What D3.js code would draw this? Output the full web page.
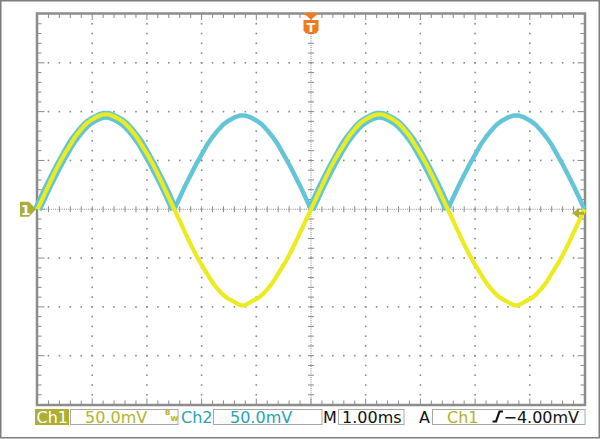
<!DOCTYPE html>
<html>
<head>
<meta charset="utf-8">
<script src="https://cdn.jsdelivr.net/npm/d3@7"></script>
<style>
  html, body { margin: 0; padding: 0; background: #fff; }
  svg { display: block; }
  text { font-family: "DejaVu Sans", sans-serif; }
</style>
</head>
<body>
<svg id="chart" width="600" height="439"></svg>
<script>
// ---- Data ----
const timeMs = [
  0,0.1,0.2,0.3,0.4,0.5,0.6,0.7,0.8,0.9,
  1,1.1,1.2,1.3,1.4,1.5,1.6,1.7,1.8,1.9,
  2,2.1,2.2,2.3,2.4,2.5,2.6,2.7,2.8,2.9,
  3,3.1,3.2,3.3,3.4,3.5,3.6,3.7,3.8,3.9,
  4,4.1,4.2,4.3,4.4,4.5,4.6,4.7,4.8,4.9,
  5,5.1,5.2,5.3,5.4,5.5,5.6,5.7,5.8,5.9,
  6,6.1,6.2,6.3,6.4,6.5,6.6,6.7,6.8,6.9,
  7,7.1,7.2,7.3,7.4,7.5,7.6,7.7,7.8,7.9,
  8,8.1,8.2,8.3,8.4,8.5,8.6,8.7,8.8,8.9,
  9,9.1,9.2,9.3,9.4,9.5,9.6,9.7,9.8,9.9,
  10
];
// Ch1 (yellow) in mV
const ch1mV = [
  0,12,24,36,47,57,66,75,82,88,92,95,97,97,95,92,88,82,75,66,57,47,36,24,12,
  0,-12,-24,-36,-47,-57,-66,-75,-82,-88,-92,-95,-98,-98,-95,-92,-88,-82,-75,-66,-57,-47,-36,-24,-12,
  0,12,24,36,47,57,66,75,82,88,92,95,97,97,95,92,88,82,75,66,57,47,36,24,12,
  0,-12,-24,-36,-47,-57,-66,-75,-82,-88,-92,-95,-98,-98,-95,-92,-88,-82,-75,-66,-57,-47,-36,-24,-12,
  0
];
// Ch2 (cyan, rectified) in mV
const ch2mV = [
  0,12,24,35,46,56,66,74,81,87,91,94,96,96,94,91,87,81,74,66,56,46,35,24,12,
  0,12,24,35,46,56,66,74,81,87,91,94,96,96,94,91,87,81,74,66,56,46,35,24,12,
  0,12,24,35,46,56,66,74,81,87,91,94,96,96,94,91,87,81,74,66,56,46,35,24,12,
  0,12,24,35,46,56,66,74,81,87,91,94,96,96,94,91,87,81,74,66,56,46,35,24,12,
  0
];
const timeDomainMs = [0, 10];
const voltDomainmV = [-200, 200];
const ch1GroundmV = 0;
const triggerTimeMs = 5;
const triggerLevelmV = -4;

// status-bar texts
const ch1Name = "Ch1", ch1Scale = "50.0mV", bwLimitB = "B", bwLimitW = "W";
const ch2Name = "Ch2", ch2Scale = "50.0mV";
const horizLabel = "M", horizScale = "1.00ms";
const trigLabel = "A", trigSource = "Ch1", trigLevelText = "\u22124.00mV";
const ch1MarkerText = "1", trigMarkerText = "T";

// ---- Drawing ----
const svg = d3.select("#chart");
const OLIVE = "#aead34", OLIVE_TXT = "#b3b22c", YELLOW = "#ebeb1f", CYAN = "#63c5d7", CYAN_TXT = "#27a3b3";
const ORANGE = "#f27a1e", GRID = "#8a8a8a";

const x = d3.scaleLinear().domain(timeDomainMs).range([37.5, 584.5]);
const y = d3.scaleLinear().domain(voltDomainmV).range([404.5, 14]);

// outer border
svg.append("rect").attr("x", 0.75).attr("y", 0.75).attr("width", 598.5).attr("height", 437)
  .attr("fill", "#fff").attr("stroke", "#7d7d7d").attr("stroke-width", 1.5);

const g = svg.append("g");
const majorX = x.ticks(10), minorX = x.ticks(50);
const majorY = y.ticks(8), minorY = y.ticks(40);
const x0 = x.range()[0], x1 = x.range()[1], yTop = y.range()[1], yBot = y.range()[0];
const xc = x(triggerTimeMs), yc = y(0);

// dotted grid lines
const dots = [];
majorX.forEach(mx => {
  if (mx === majorX[0] || mx === majorX[majorX.length - 1] || mx === 5) return;
  minorY.forEach(my => { if (my > voltDomainmV[0] && my < voltDomainmV[1]) dots.push([x(mx), y(my)]); });
});
majorY.forEach(my => {
  if (my === voltDomainmV[0] || my === voltDomainmV[1] || my === 0) return;
  minorX.forEach(mx => { if (mx > timeDomainMs[0] && mx < timeDomainMs[1]) dots.push([x(mx), y(my)]); });
});
g.selectAll("rect.dot").data(dots).join("rect").attr("class", "dot")
  .attr("x", d => d[0] - 0.8).attr("y", d => d[1] - 0.8).attr("width", 1.6).attr("height", 1.6)
  .attr("fill", GRID);

// center cross (dotted lines with minor ticks)
g.append("line").attr("x1", x0).attr("x2", x1).attr("y1", yc).attr("y2", yc)
  .attr("stroke", GRID).attr("stroke-width", 1).attr("stroke-dasharray", "1,1.2");
g.append("line").attr("x1", xc).attr("x2", xc).attr("y1", yTop).attr("y2", yBot)
  .attr("stroke", GRID).attr("stroke-width", 1).attr("stroke-dasharray", "1,1.2");
g.selectAll("line.cxt").data(minorX.filter(v => v > 0 && v < 10)).join("line").attr("class", "cxt")
  .attr("x1", d => x(d)).attr("x2", d => x(d)).attr("y1", yc - 3).attr("y2", yc + 3)
  .attr("stroke", GRID).attr("stroke-width", 1);
g.selectAll("line.cyt").data(minorY.filter(v => v > -200 && v < 200)).join("line").attr("class", "cyt")
  .attr("y1", d => y(d)).attr("y2", d => y(d)).attr("x1", xc - 3).attr("x2", xc + 3)
  .attr("stroke", GRID).attr("stroke-width", 1);

// frame ticks
const isMajorX = v => Math.abs(v - Math.round(v)) < 1e-6;
const isMajorY = v => Math.abs(v / 50 - Math.round(v / 50)) < 1e-6;
g.selectAll("line.ftx").data(minorX.filter(v => v > 0 && v < 10)).join("line").attr("class", "ftx")
  .attr("x1", d => x(d)).attr("x2", d => x(d)).attr("y1", yTop).attr("y2", d => yTop + (isMajorX(d) ? 6 : 4))
  .attr("stroke", GRID).attr("stroke-width", 1);
g.selectAll("line.fbx").data(minorX.filter(v => v > 0 && v < 10)).join("line").attr("class", "fbx")
  .attr("x1", d => x(d)).attr("x2", d => x(d)).attr("y1", yBot).attr("y2", d => yBot - (isMajorX(d) ? 6 : 4))
  .attr("stroke", GRID).attr("stroke-width", 1);
g.selectAll("line.fly").data(minorY.filter(v => v > -200 && v < 200)).join("line").attr("class", "fly")
  .attr("y1", d => y(d)).attr("y2", d => y(d)).attr("x1", x0).attr("x2", d => x0 + (isMajorY(d) ? 7 : 4))
  .attr("stroke", GRID).attr("stroke-width", 1);
g.selectAll("line.fry").data(minorY.filter(v => v > -200 && v < 200)).join("line").attr("class", "fry")
  .attr("y1", d => y(d)).attr("y2", d => y(d)).attr("x1", x1).attr("x2", d => x1 - (isMajorY(d) ? 7 : 4))
  .attr("stroke", GRID).attr("stroke-width", 1);

// frame
g.append("rect").attr("x", x0 - 0.5).attr("y", yTop - 0.5).attr("width", x1 - x0 + 1).attr("height", yBot - yTop + 1)
  .attr("fill", "none").attr("stroke", "#8c8c8c").attr("stroke-width", 2.5);

// traces
const pts1 = timeMs.map((t, i) => ({ t, v: ch1mV[i] }));
const pts2 = timeMs.map((t, i) => ({ t, v: ch2mV[i], pos: ch1mV[i] >= 0 }));
const line1 = d3.line().x(d => x(d.t)).y(d => y(d.v)).curve(d3.curveNatural);
const line2 = d3.line().x(d => x(d.t)).y(d => y(d.v));
const halo = d3.line().defined(d => d.pos).x(d => x(d.t)).y(d => y(d.v)).curve(d3.curveNatural);

svg.append("path").datum(pts2).attr("d", halo).attr("fill", "none").attr("stroke", CYAN)
  .attr("stroke-width", 9).attr("stroke-linejoin", "round").attr("stroke-linecap", "butt");
svg.append("path").datum(pts2).attr("d", line2).attr("fill", "none").attr("stroke", CYAN)
  .attr("stroke-width", 4.5).attr("stroke-linejoin", "round");
svg.append("path").datum(pts1).attr("d", line1).attr("fill", "none").attr("stroke", YELLOW)
  .attr("stroke-width", 4.2).attr("stroke-linejoin", "round");

// Ch1 ground marker
const gy = y(ch1GroundmV);
svg.append("path").attr("d", `M20,${gy - 7.5} H29 L36,${gy} L29,${gy + 7.5} H20 Z`).attr("fill", OLIVE);
svg.append("text").attr("x", 25.5).attr("y", gy + 5.5).attr("text-anchor", "middle")
  .attr("font-size", 14).attr("font-weight", "bold").attr("fill", "#fff").text(ch1MarkerText);

// Trigger position marker (top)
svg.append("path").attr("d", `M${xc - 8},13 H${xc + 8} L${xc},19.5 Z`).attr("fill", ORANGE);
svg.append("path").attr("d", `M${xc - 7.5},20 H${xc + 7.5} V30.5 L${xc + 5},33.5 H${xc - 5} L${xc - 7.5},30.5 Z`).attr("fill", ORANGE);
svg.append("text").attr("x", xc).attr("y", 31.5).attr("text-anchor", "middle")
  .attr("font-size", 13).attr("font-weight", "bold").attr("fill", "#fff").text(trigMarkerText);

// Trigger level marker (right)
const ty = y(triggerLevelmV);
svg.append("path").attr("d", `M572,${ty} L579,${ty - 5} V${ty - 1.5} H584 V${ty + 1.5} H579 V${ty + 5} Z`).attr("fill", OLIVE);

// ---- Status bar ----
const sb = svg.append("g");
const boxY = 409, boxH = 16, base = 422.5;
sb.append("rect").attr("x", 35).attr("y", boxY).attr("width", 34).attr("height", boxH).attr("fill", OLIVE);
sb.append("text").attr("x", 36.5).attr("y", base).attr("font-size", 16).attr("fill", "#fff").text(ch1Name);
const boxes = [[70.5, 107.5], [213.5, 108.5], [338.5, 65.5], [432.5, 152.5]];
sb.selectAll("rect.sbox").data(boxes).join("rect").attr("class", "sbox")
  .attr("x", d => d[0]).attr("y", boxY + 0.5).attr("width", d => d[1]).attr("height", boxH - 1)
  .attr("fill", "#fff").attr("stroke", "#a8a8a8").attr("stroke-width", 1);
sb.append("text").attr("x", 85).attr("y", base).attr("font-size", 16).attr("fill", OLIVE_TXT).text(ch1Scale);
sb.append("text").attr("x", 165).attr("y", 415).attr("font-size", 7).attr("font-weight", "bold").attr("fill", OLIVE_TXT).text(bwLimitB);
sb.append("text").attr("x", 170.6).attr("y", 421).attr("font-size", 7).attr("font-weight", "bold").attr("fill", OLIVE_TXT).text(bwLimitW);
sb.append("text").attr("x", 181).attr("y", base).attr("font-size", 16).attr("fill", CYAN_TXT).text(ch2Name);
sb.append("text").attr("x", 230).attr("y", base).attr("font-size", 16).attr("fill", CYAN_TXT).text(ch2Scale);
sb.append("text").attr("x", 323).attr("y", base).attr("font-size", 16).attr("fill", "#111").text(horizLabel);
sb.append("text").attr("x", 342).attr("y", base).attr("font-size", 16).attr("fill", "#111").text(horizScale);
sb.append("text").attr("x", 419).attr("y", base).attr("font-size", 16).attr("fill", "#111").text(trigLabel);
sb.append("text").attr("x", 447).attr("y", base).attr("font-size", 16).attr("fill", OLIVE_TXT).text(trigSource);
sb.append("path").attr("d", "M492.5,421.5 H496 L499.5,411.5 H503").attr("fill", "none")
  .attr("stroke", "#111").attr("stroke-width", 2.2);
sb.append("text").attr("x", 503.5).attr("y", base).attr("font-size", 16).attr("fill", "#111").text(trigLevelText);
</script>
</body>
</html>
